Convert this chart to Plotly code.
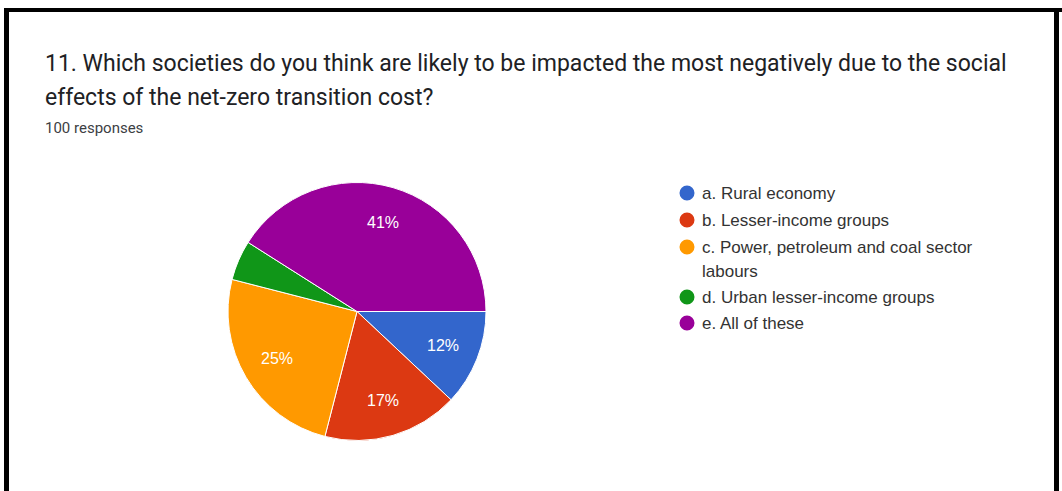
import math
import plotly.graph_objects as go

W, H = 1062, 491

# Survey answers and their share of the 100 responses (%)
labels = [
    "a. Rural economy",
    "b. Lesser-income groups",
    "c. Power, petroleum and coal sector<br>labours",
    "d. Urban lesser-income groups",
    "e. All of these",
]
values = [12, 17, 25, 5, 41]
colors = ["#3366CC", "#DC3912", "#FF9900", "#109618", "#990099"]

title_line1 = "11. Which societies do you think are likely to be impacted the most negatively due to the social"
title_line2 = "effects of the net-zero transition cost?"
subtitle = "100 responses"

# pie geometry in pixels
cx, cy, r = 357, 311.5, 129


def px_x(x):
    return x / W


def px_y(y):
    return 1 - y / H


fig = go.Figure()
fig.add_trace(go.Pie(
    labels=labels,
    values=values,
    sort=False,
    direction="clockwise",
    rotation=90,
    marker=dict(colors=colors, line=dict(color="white", width=1)),
    textinfo="none",
    domain=dict(x=[px_x(cx - r), px_x(cx + r)], y=[px_y(cy + r), px_y(cy - r)]),
    showlegend=False,
    hoverinfo="label+percent",
))

annotations = [
    dict(x=px_x(43), y=px_y(63), text=title_line1, xanchor="left", yanchor="middle",
         font=dict(family="Roboto", size=23, color="#202124")),
    dict(x=px_x(43), y=px_y(97), text=title_line2, xanchor="left", yanchor="middle",
         font=dict(family="Roboto", size=23, color="#202124")),
    dict(x=px_x(43), y=px_y(128), text=subtitle, xanchor="left", yanchor="middle",
         font=dict(family="Roboto", size=15, color="#3c4043")),
]

# percentage labels along each slice's bisector (slices start at 3 o'clock, clockwise)
total = sum(values)
start = 0.0
for v in values:
    span = 360.0 * v / total
    mid = math.radians(start + span / 2)
    start += span
    if v < 10:
        continue
    lx = cx + 0.72 * r * math.cos(mid)
    ly = cy + 0.72 * r * math.sin(mid)
    annotations.append(dict(x=px_x(lx), y=px_y(ly), text=f"{round(100 * v / total)}%",
                            xanchor="center", yanchor="middle",
                            font=dict(family="Liberation Sans, Arial", size=16, color="white")))

shapes = [
    # frame around the card (left, top, right)
    dict(type="rect", xref="paper", yref="paper", x0=px_x(4), x1=px_x(9), y0=0, y1=px_y(8),
         fillcolor="black", line=dict(width=0)),
    dict(type="rect", xref="paper", yref="paper", x0=px_x(4), x1=1, y0=px_y(12), y1=px_y(8),
         fillcolor="black", line=dict(width=0)),
    dict(type="rect", xref="paper", yref="paper", x0=px_x(1054), x1=px_x(1059), y0=0, y1=px_y(8),
         fillcolor="black", line=dict(width=0)),
]

# legend rows: circle marker + label (wrapped labels continue on a second line)
row_y = [193, 220, 247, 297, 323]
for lab, col, y in zip(labels, colors, row_y):
    shapes.append(dict(type="circle", xref="paper", yref="paper",
                       x0=px_x(687 - 7.5), x1=px_x(687 + 7.5),
                       y0=px_y(y + 7.5), y1=px_y(y - 7.5),
                       fillcolor=col, line=dict(width=0)))
    for k, ln in enumerate(lab.split("<br>")):
        annotations.append(dict(x=px_x(700), y=px_y(y + k * 24), text=ln,
                                xanchor="left", yanchor="middle",
                                font=dict(family="Liberation Sans, Arial", size=17, color="#333333")))

for a in annotations:
    a.update(xref="paper", yref="paper", showarrow=False)

fig.update_layout(
    width=W, height=H,
    margin=dict(l=0, r=0, t=0, b=0),
    paper_bgcolor="white",
    plot_bgcolor="white",
    annotations=annotations,
    shapes=shapes,
)

fig.write_html("out.html")
